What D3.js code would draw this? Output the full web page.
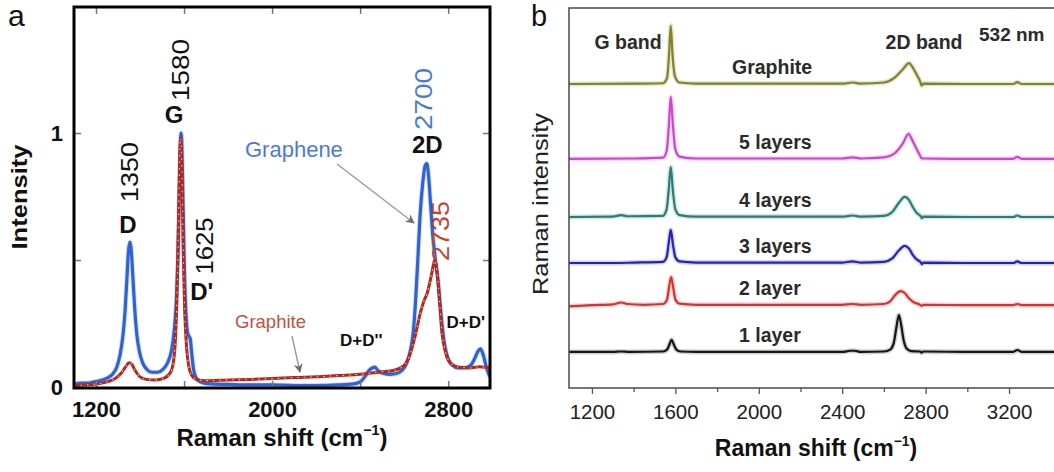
<!DOCTYPE html>
<html>
<head>
<meta charset="utf-8">
<script src="https://cdn.jsdelivr.net/npm/d3@7"></script>
<style>
  html, body { margin: 0; padding: 0; background: #fff; }
  svg { display: block; }
  text { font-family: "Liberation Sans", Arial, Helvetica, sans-serif; }
</style>
</head>
<body>
<svg id="fig" width="1054" height="472"></svg>
<script>
// ---------- Panel a: graphene vs graphite, [Raman shift (cm-1), normalised intensity] ----------
const grapheneSpectrum = [
  [1100,0.01],[1130,0.015],[1160,0.015],[1190,0.02],[1220,0.025],[1250,0.035],[1275,0.05],
  [1295,0.08],[1310,0.13],[1322,0.2],[1332,0.3],[1340,0.42],[1347,0.53],[1354,0.57],[1360,0.54],
  [1367,0.44],[1375,0.32],[1385,0.21],[1397,0.14],[1412,0.095],[1430,0.07],[1455,0.058],[1480,0.058],
  [1505,0.07],[1525,0.095],[1542,0.14],[1555,0.22],[1565,0.34],[1573,0.55],[1579,0.8],[1584,0.97],
  [1587,1.0],[1591,0.92],[1596,0.7],[1602,0.45],[1608,0.3],[1615,0.22],[1622,0.2],[1628,0.19],
  [1635,0.13],[1643,0.07],[1655,0.035],[1675,0.02],[1720,0.012],[1800,0.01],[1900,0.008],[2000,0.008],
  [2100,0.006],[2200,0.006],[2300,0.008],[2370,0.012],[2400,0.02],[2425,0.045],[2440,0.065],[2455,0.075],
  [2468,0.078],[2480,0.065],[2500,0.055],[2530,0.05],[2560,0.052],[2590,0.065],[2612,0.095],[2630,0.15],
  [2642,0.22],[2652,0.34],[2662,0.5],[2672,0.67],[2684,0.8],[2695,0.87],[2703,0.88],[2711,0.83],
  [2720,0.72],[2730,0.6],[2742,0.5],[2754,0.42],[2764,0.32],[2774,0.23],[2785,0.16],[2798,0.115],
  [2820,0.085],[2845,0.075],[2880,0.076],[2905,0.088],[2922,0.115],[2935,0.14],[2947,0.15],[2958,0.13],
  [2970,0.09],[2980,0.06],[2990,0.04]
];
const graphiteSpectrum = [
  [1100,0.005],[1150,0.008],[1200,0.012],[1250,0.02],[1290,0.035],[1315,0.055],[1335,0.08],[1350,0.095],
  [1362,0.09],[1378,0.065],[1400,0.04],[1430,0.03],[1470,0.028],[1510,0.035],[1540,0.06],[1555,0.12],
  [1566,0.3],[1574,0.6],[1580,0.9],[1585,0.98],[1590,0.85],[1596,0.55],[1603,0.3],[1612,0.15],
  [1622,0.08],[1635,0.045],[1655,0.03],[1700,0.025],[1800,0.028],[1900,0.03],[2000,0.033],[2100,0.037],
  [2200,0.04],[2300,0.045],[2400,0.05],[2450,0.055],[2500,0.06],[2550,0.065],[2600,0.085],[2627,0.13],
  [2650,0.2],[2673,0.29],[2690,0.34],[2705,0.37],[2716,0.41],[2726,0.45],[2735,0.49],[2741,0.5],
  [2748,0.46],[2756,0.39],[2764,0.3],[2771,0.22],[2782,0.16],[2794,0.12],[2815,0.09],[2850,0.078],
  [2900,0.075],[2940,0.08],[2970,0.078],[2990,0.075]
];
const xTicksA = [1200, 1600, 2000, 2400, 2800];
const xTickLabelsA = [1200, 2000, 2800];
const yTicksA = [0, 0.5, 1];
const yTickLabelsA = [0, 1];

// ---------- Panel b: layer-number series, [Raman shift (cm-1), intensity above own baseline] ----------
const seriesNames = ["1 layer", "2 layer", "3 layers", "4 layers", "5 layers", "Graphite"];
const seriesOffsets = [0.95, 2.18, 3.29, 4.5, 6.03, 8.0];
const layer1 = [
  [1090,0],[1300,0],[1340,0.01],[1380,0],[1540,0.01],[1560,0.06],[1572,0.2],[1582,0.32],[1592,0.2],
  [1605,0.06],[1625,0.01],[1700,0],[2400,0],[2440,0.03],[2460,0.03],[2490,0],[2600,0.01],[2630,0.06],
  [2648,0.25],[2660,0.65],[2672,0.97],[2683,0.7],[2695,0.3],[2710,0.08],[2730,0.02],[2775,0.01],
  [2780,-0.02],[2790,0.01],[3000,0],[3220,0],[3240,0.05],[3260,0],[3430,0]
];
const layer2 = [
  [1090,-0.03],[1200,0],[1300,0.02],[1340,0.07],[1370,0.03],[1450,0.01],[1540,0.03],[1560,0.15],
  [1572,0.55],[1580,0.74],[1590,0.45],[1600,0.15],[1620,0.04],[1700,0.01],[2400,0.01],[2450,0.03],
  [2490,0.01],[2600,0.03],[2630,0.1],[2655,0.27],[2680,0.37],[2700,0.32],[2720,0.18],[2745,0.07],
  [2770,0.02],[2780,-0.02],[2790,0.01],[3000,0],[3220,0],[3240,0.03],[3260,0],[3430,0]
];
const layer3 = [
  [1090,0],[1300,0],[1400,0.01],[1540,0.03],[1558,0.15],[1570,0.6],[1578,0.87],[1588,0.5],[1600,0.15],
  [1620,0.04],[1700,0.01],[2400,0.01],[2450,0.04],[2490,0.01],[2600,0.03],[2640,0.12],[2670,0.32],
  [2700,0.45],[2720,0.38],[2740,0.2],[2760,0.08],[2775,0.03],[2782,-0.03],[2790,0.01],[3000,0],
  [3220,0],[3240,0.04],[3260,0],[3430,0]
];
const layer4 = [
  [1090,0],[1300,0.01],[1340,0.05],[1370,0.02],[1540,0.03],[1558,0.2],[1568,0.7],[1578,1.32],[1588,0.7],
  [1600,0.2],[1620,0.05],[1700,0.01],[2400,0.01],[2450,0.04],[2490,0.01],[2600,0.03],[2640,0.13],
  [2670,0.36],[2700,0.53],[2720,0.45],[2740,0.25],[2760,0.09],[2775,0.03],[2782,-0.03],[2790,0.01],
  [3000,0],[3220,0],[3240,0.04],[3260,0],[3430,0]
];
const layer5 = [
  [1090,0],[1400,0.01],[1540,0.03],[1558,0.2],[1568,0.8],[1578,1.63],[1588,0.9],[1600,0.25],[1620,0.06],
  [1700,0.01],[2400,0.01],[2450,0.04],[2490,0.01],[2600,0.04],[2650,0.14],[2690,0.4],[2718,0.66],
  [2735,0.5],[2755,0.28],[2772,0.1],[2780,0.02],[2790,0.01],[3000,0],[3220,0],[3240,0.05],[3260,0],[3430,0]
];
const graphiteB = [
  [1090,0],[1400,0.01],[1540,0.02],[1560,0.15],[1570,0.8],[1578,1.53],[1586,0.8],[1598,0.2],[1620,0.04],
  [1700,0.01],[2400,0.01],[2450,0.04],[2490,0.01],[2600,0.04],[2650,0.16],[2690,0.38],[2720,0.55],
  [2740,0.42],[2760,0.22],[2775,0.05],[2780,-0.04],[2790,0.01],[3000,0],[3220,0],[3240,0.05],[3260,0],[3430,0]
];
const seriesData = [layer1, layer2, layer3, layer4, layer5, graphiteB];
const seriesColors = ["#151515", "#d63232", "#2424b4", "#2a7c78", "#cc46cc", "#82822a"];
const xTicksB = [1200, 1600, 2000, 2400, 2800, 3200];
const xMinorTicksB = [1400, 1800, 2200, 2600, 3000];

// ---------- drawing ----------
const svg = d3.select("#fig");

function rotatedText(g, str, cx, cy, fs, len, color, weight) {
  return g.append("text")
    .attr("transform", `translate(${cx + 0.36 * fs},${cy}) rotate(-90)`)
    .attr("text-anchor", "middle")
    .attr("font-size", fs)
    .attr("font-weight", weight || "normal")
    .attr("fill", color || "#111")
    .attr("textLength", len)
    .attr("lengthAdjust", "spacingAndGlyphs")
    .text(str);
}
function plainText(g, str, x, y, fs, opts) {
  opts = opts || {};
  return g.append("text")
    .attr("x", x).attr("y", y)
    .attr("text-anchor", opts.anchor || "middle")
    .attr("font-size", fs)
    .attr("font-weight", opts.weight || "normal")
    .attr("fill", opts.color || "#111")
    .text(str);
}
function shiftTitle(g, cx, baseline, fs) {
  const t = g.append("text").attr("x", cx).attr("y", baseline)
    .attr("text-anchor", "middle").attr("font-size", fs)
    .attr("font-weight", "bold").attr("fill", "#111");
  t.append("tspan").text("Raman shift (cm");
  t.append("tspan").attr("font-size", fs * 0.6).attr("dy", -fs * 0.45).text("\u22121");
  t.append("tspan").attr("dy", fs * 0.45).text(")");
}

// ===== Panel a =====
const xA = d3.scaleLinear().domain([1100, 2990]).range([74, 490]);
const yA = d3.scaleLinear().domain([0, 1.5]).range([387, 6]);
const gA = svg.append("g");

svg.append("defs").html(`
  <clipPath id="clipA"><rect x="74" y="7" width="416" height="381"/></clipPath>
  <clipPath id="clipB"><rect x="569" y="8" width="500" height="380"/></clipPath>
  <marker id="arrowHead" viewBox="0 0 10 10" refX="9" refY="5" markerWidth="9" markerHeight="9" orient="auto-start-reverse" markerUnits="userSpaceOnUse">
    <path d="M0,0 L10,5 L0,10 L3,5 Z" fill="#6f6f6f"/>
  </marker>`);

const lineA = d3.line().x(d => xA(d[0])).y(d => yA(d[1])).curve(d3.curveMonotoneX);
const plotA = gA.append("g").attr("clip-path", "url(#clipA)");
plotA.append("path").datum(grapheneSpectrum).attr("d", lineA)
  .attr("fill", "none").attr("stroke", "#7ea3ea").attr("stroke-width", 5).attr("stroke-opacity", 0.35);
plotA.append("path").datum(grapheneSpectrum).attr("d", lineA)
  .attr("fill", "none").attr("stroke", "#2f62d4").attr("stroke-width", 3.2).attr("stroke-linejoin", "round");
plotA.append("path").datum(graphiteSpectrum).attr("d", lineA)
  .attr("fill", "none").attr("stroke", "#b3281c").attr("stroke-width", 3).attr("stroke-linejoin", "round");
plotA.append("path").datum(graphiteSpectrum).attr("d", lineA)
  .attr("fill", "none").attr("stroke", "#ffffff").attr("stroke-width", 1.1)
  .attr("stroke-dasharray", "1.5,5").attr("stroke-opacity", 0.75);

// inward ticks on all four sides
function styleAxis(sel) {
  sel.select(".domain").remove();
  sel.selectAll(".tick line").attr("stroke", "#777").attr("stroke-width", 1.5);
  sel.selectAll(".tick text").attr("font-family", '"Liberation Sans", Arial, sans-serif')
    .attr("font-weight", "bold").attr("fill", "#111");
}
gA.append("g").attr("transform", "translate(0,388)")
  .call(d3.axisBottom(xA).tickValues(xTicksA).tickSize(-7).tickPadding(13)
    .tickFormat(d => xTickLabelsA.includes(d) ? d : ""))
  .call(styleAxis).selectAll(".tick text").attr("font-size", 22);
gA.append("g").attr("transform", "translate(0,7)")
  .call(d3.axisTop(xA).tickValues(xTicksA).tickSize(-7).tickFormat(""))
  .call(styleAxis);
gA.append("g").attr("transform", "translate(74,0)")
  .call(d3.axisLeft(yA).tickValues(yTicksA).tickSize(-7).tickPadding(11)
    .tickFormat(d => yTickLabelsA.includes(d) ? d : ""))
  .call(styleAxis).selectAll(".tick text").attr("font-size", 22);
gA.append("g").attr("transform", "translate(490,0)")
  .call(d3.axisRight(yA).tickValues(yTicksA).tickSize(-7).tickFormat(""))
  .call(styleAxis);
gA.append("rect").attr("x", 74).attr("y", 7).attr("width", 416).attr("height", 381)
  .attr("fill", "none").attr("stroke", "#000").attr("stroke-width", 3);

// peak annotations
plainText(gA, "D", xA(1345), 233, 24, { weight: "bold" });
rotatedText(gA, "1350", xA(1355), 172, 23, 60);
plainText(gA, "G", xA(1555), 123, 24, { weight: "bold" });
rotatedText(gA, "1580", xA(1585), 70, 23, 62);
plainText(gA, "D'", xA(1680), 300, 24, { weight: "bold" });
rotatedText(gA, "1625", xA(1692), 246, 23, 57);
plainText(gA, "2D", xA(2705), 153, 24, { weight: "bold" });
rotatedText(gA, "2700", xA(2688), 99, 23, 62, "#4a7bd4");
rotatedText(gA, "2735", xA(2768), 231, 23, 60, "#c2452f");
plainText(gA, "Graphene", 245, 157, 22, { anchor: "start", color: "#4a7bd4" });
plainText(gA, "Graphite", 235, 328, 18.5, { anchor: "start", color: "#c2503c" });
plainText(gA, "D+D''", xA(2405), 346, 17, { weight: "bold" });
plainText(gA, "D+D'", xA(2880), 328, 17, { weight: "bold" });

// pointer arrows
gA.append("line").attr("x1", 337).attr("y1", 164).attr("x2", 414).attr("y2", 223)
  .attr("stroke", "#9a9a9a").attr("stroke-width", 1.4).attr("marker-end", "url(#arrowHead)");
gA.append("line").attr("x1", 292).attr("y1", 336).attr("x2", 300).attr("y2", 372)
  .attr("stroke", "#9a9a9a").attr("stroke-width", 1.4).attr("marker-end", "url(#arrowHead)");

rotatedText(gA, "Intensity", 19, 197, 22, 105, "#111", "bold");
shiftTitle(gA, 282, 446, 24);
plainText(gA, "a", 8, 26, 30, { anchor: "start" });

// ===== Panel b =====
const xB = d3.scaleLinear().domain([1090, 3430]).range([569, 1057]);
const yB = d3.scaleLinear().domain([0, 10]).range([388, 8]);
const gB = svg.append("g");
const plotB = gB.append("g").attr("clip-path", "url(#clipB)");

seriesData.forEach((pts, i) => {
  const off = seriesOffsets[i];
  const line = d3.line().x(d => xB(d[0])).y(d => yB(off + d[1])).curve(d3.curveMonotoneX);
  plotB.append("path").datum(pts).attr("d", line).attr("fill", "none")
    .attr("stroke", seriesColors[i]).attr("stroke-width", 5).attr("stroke-opacity", 0.2);
  plotB.append("path").datum(pts).attr("d", line).attr("fill", "none")
    .attr("stroke", seriesColors[i]).attr("stroke-width", 2.2).attr("stroke-linejoin", "round");
  plainText(gB, seriesNames[i], seriesNames[i] === "Graphite" ? 732 : 739, yB(off) - 10, 19.5,
    { anchor: "start", weight: "bold", color: "#2a2a2a" });
});

gB.append("rect").attr("x", 569).attr("y", 8).attr("width", 500).attr("height", 380)
  .attr("fill", "none").attr("stroke", "#4a4a4a").attr("stroke-width", 1.5);

const axB = gB.append("g").attr("transform", "translate(0,388)")
  .call(d3.axisBottom(xB).tickValues(xTicksB).tickSize(6).tickPadding(10).tickFormat(d => d));
axB.select(".domain").remove();
axB.selectAll(".tick line").attr("stroke", "#555").attr("stroke-width", 1.3);
axB.selectAll(".tick text").attr("font-size", 20.5).attr("fill", "#222")
  .attr("font-family", '"Liberation Sans", Arial, sans-serif');
const axBm = gB.append("g").attr("transform", "translate(0,388)")
  .call(d3.axisBottom(xB).tickValues(xMinorTicksB).tickSize(4).tickFormat(""));
axBm.select(".domain").remove();
axBm.selectAll(".tick line").attr("stroke", "#555").attr("stroke-width", 1.3);

plainText(gB, "G band", 628, 49, 19.5, { weight: "bold", color: "#2a2a2a" });
plainText(gB, "2D band", 924, 49, 19.5, { weight: "bold", color: "#2a2a2a" });
plainText(gB, "532 nm", 979, 41, 19, { anchor: "start", weight: "bold", color: "#2a2a2a" });

rotatedText(gB, "Raman intensity", 540, 204, 22, 182, "#222");
shiftTitle(gB, 816, 456, 23);
plainText(gB, "b", 531, 26, 29, { anchor: "start" });
</script>
</body>
</html>
